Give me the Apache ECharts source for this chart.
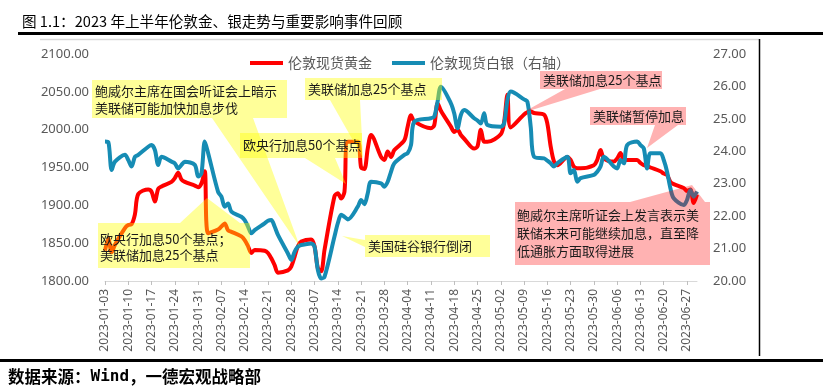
<!DOCTYPE html>
<html>
<head>
<meta charset="utf-8">
<script src="https://cdn.jsdelivr.net/npm/echarts@6/dist/echarts.min.js"></script>
<style>
html,body{margin:0;padding:0;background:#fff;}
#chart{width:833px;height:389px;}
</style>
</head>
<body>
<div id="chart"></div>
<script>
// ---- data ----
const tradeDates = [
'2023-01-03','2023-01-04','2023-01-05','2023-01-06',
'2023-01-09','2023-01-10','2023-01-11','2023-01-12','2023-01-13',
'2023-01-16','2023-01-17','2023-01-18','2023-01-19','2023-01-20',
'2023-01-23','2023-01-24','2023-01-25','2023-01-26','2023-01-27',
'2023-01-30','2023-01-31','2023-02-01','2023-02-02','2023-02-03',
'2023-02-06','2023-02-07','2023-02-08','2023-02-09','2023-02-10',
'2023-02-13','2023-02-14','2023-02-15','2023-02-16','2023-02-17',
'2023-02-20','2023-02-21','2023-02-22','2023-02-23','2023-02-24',
'2023-02-27','2023-02-28','2023-03-01','2023-03-02','2023-03-03',
'2023-03-06','2023-03-07','2023-03-08','2023-03-09','2023-03-10',
'2023-03-13','2023-03-14','2023-03-15','2023-03-16','2023-03-17',
'2023-03-20','2023-03-21','2023-03-22','2023-03-23','2023-03-24',
'2023-03-27','2023-03-28','2023-03-29','2023-03-30','2023-03-31',
'2023-04-03','2023-04-04','2023-04-05','2023-04-06',
'2023-04-11','2023-04-12','2023-04-13','2023-04-14',
'2023-04-17','2023-04-18','2023-04-19','2023-04-20','2023-04-21',
'2023-04-24','2023-04-25','2023-04-26','2023-04-27','2023-04-28',
'2023-05-02','2023-05-03','2023-05-04','2023-05-05',
'2023-05-09','2023-05-10','2023-05-11','2023-05-12',
'2023-05-15','2023-05-16','2023-05-17','2023-05-18','2023-05-19',
'2023-05-22','2023-05-23','2023-05-24','2023-05-25','2023-05-26',
'2023-05-30','2023-05-31','2023-06-01','2023-06-02',
'2023-06-05','2023-06-06','2023-06-07','2023-06-08','2023-06-09',
'2023-06-12','2023-06-13','2023-06-14','2023-06-15','2023-06-16',
'2023-06-19','2023-06-20','2023-06-21','2023-06-22','2023-06-23',
'2023-06-26','2023-06-27','2023-06-28','2023-06-29','2023-06-30'
];
const goldValues = [
1840,1856,1838,1848,
1870,1874,1875,1888,1915,
1921,1918,1905,1922,1925,
1931,1936,1943,1934,1931,
1926,1924,1929,1945,1863,
1868,1872,1876,1867,1865,
1859,1854,1846,1837,1841,
1840,1837,1830,1821,1811,
1814,1819,1832,1846,1852,
1855,1846,1817,1813,1841,
1912,1916,1909,1918,1984,
1984,1950,1948,1975,1993,
1964,1960,1971,1964,1973,
1986,2004,2019,2011,
2002,2006,2035,2025,
2004,1997,2000,1993,1988,
1975,1978,2000,1984,1984,
1994,2010,2046,2003,
2020,2023,2024,2022,
2020,2008,1978,1958,1953,
1964,1960,1951,1949,1949,
1953,1960,1973,1962,
1958,1962,1969,1960,1960,
1960,1956,1953,1952,1950,
1945,1942,1940,1931,1928,
1923,1919,1921,1903,1914
];
const silverValues = [
24.30,24.28,23.42,23.68,
23.89,23.73,23.53,23.83,23.89,
24.14,24.19,24.04,23.58,23.83,
23.68,23.63,23.47,23.58,23.68,
23.58,23.22,23.32,24.30,23.95,
22.75,22.60,22.29,22.39,22.14,
21.98,21.88,21.68,21.47,21.57,
21.78,21.86,21.88,21.68,21.42,
20.85,20.65,20.90,21.06,21.11,
21.16,21.06,20.34,20.08,20.13,
21.37,21.78,22.04,21.98,21.90,
22.29,22.50,22.37,22.70,23.06,
23.01,22.91,23.06,23.37,23.63,
23.89,23.94,24.19,24.91,
25.02,25.07,25.53,25.99,
25.48,25.17,24.71,25.12,25.27,
25.02,24.95,24.86,25.17,24.81,
24.76,24.86,25.58,25.84,
25.60,25.53,24.76,23.83,
23.78,23.71,23.63,23.53,23.63,
23.83,23.32,23.42,23.06,23.17,
23.27,23.37,23.53,23.83,
23.53,23.47,23.73,23.63,24.19,
24.30,24.19,24.09,23.47,23.94,
23.94,23.73,23.37,22.86,22.55,
22.34,22.50,22.81,22.60,22.76
];
const axisStart = '2023-01-03';
const axisEnd = '2023-06-30';
const goldName = '伦敦现货黄金';
const silverName = '伦敦现货白银（右轴）';
const titleText = '图 1.1：2023 年上半年伦敦金、银走势与重要影响事件回顾';
const sourceParts = ['数据来源：', 'Wind', '，一德宏观战略部'];

// ---- build calendar categories ----
const categories = [];
{
  let t = Date.parse(axisStart + 'T00:00:00Z');
  const end = Date.parse(axisEnd + 'T00:00:00Z');
  while (t <= end) {
    categories.push(new Date(t).toISOString().slice(0, 10));
    t += 86400000;
  }
}
const goldMap = {}, silverMap = {};
tradeDates.forEach((d, i) => { goldMap[d] = goldValues[i]; silverMap[d] = silverValues[i]; });
const goldSeries = categories.map(c => (c in goldMap ? goldMap[c] : null));
const silverSeries = categories.map(c => (c in silverMap ? silverMap[c] : null));

const CJK = '"Noto Sans CJK SC", "Noto Sans", sans-serif';
const YEL = 'rgba(255,255,0,0.4)';
const PNK = 'rgba(255,0,0,0.3)';

function poly(points, fill) {
  return { type: 'polygon', z: 100, shape: { points: points }, style: { fill: fill, stroke: null } };
}
function label(x, y, text, lh) {
  return { type: 'text', z: 101, x: x, y: y,
    style: { text: text, font: '13px ' + CJK, fill: '#1a1a1a', verticalAlign: 'top', lineHeight: lh || 17 } };
}

const chart = echarts.init(document.getElementById('chart'), null, { renderer: 'canvas' });
chart.setOption({
  animation: false,
  backgroundColor: '#fff',
  grid: { left: 105, right: 136, top: 54, bottom: 108, containLabel: false },
  legend: {
    left: 245, top: 51, icon: 'rect', itemWidth: 33, itemHeight: 4, itemGap: 20,
    textStyle: { fontSize: 14, color: '#595959', fontFamily: CJK },
    data: [goldName, silverName]
  },
  xAxis: {
    type: 'category', data: categories, boundaryGap: false,
    axisLine: { lineStyle: { color: '#d9d9d9', width: 1 } },
    axisTick: { show: true, interval: 6, length: 4, lineStyle: { color: '#bfbfbf' } },
    axisLabel: { interval: 6, rotate: 90, margin: 8, fontSize: 12, color: '#595959', fontFamily: '"Noto Sans", sans-serif' },
    splitLine: { show: false }
  },
  yAxis: [
    { type: 'value', min: 1800, max: 2100, interval: 50,
      axisLine: { show: false }, axisTick: { show: false }, splitLine: { show: false },
      axisLabel: { margin: 16, fontSize: 13, color: '#595959', fontFamily: '"Noto Sans", sans-serif',
        formatter: v => v.toFixed(2) } },
    { type: 'value', min: 20, max: 27, interval: 1, position: 'right',
      axisLine: { show: false }, axisTick: { show: false }, splitLine: { show: false },
      axisLabel: { margin: 16, fontSize: 13, color: '#595959', fontFamily: '"Noto Sans", sans-serif',
        formatter: v => v.toFixed(2) } }
  ],
  series: [
    { name: goldName, type: 'line', yAxisIndex: 0, data: goldSeries, connectNulls: true,
      showSymbol: false, smooth: 0.3, lineStyle: { color: '#ff0000', width: 4 }, itemStyle: { color: '#ff0000' } },
    { name: silverName, type: 'line', yAxisIndex: 1, data: silverSeries, connectNulls: true,
      showSymbol: false, smooth: 0.3, lineStyle: { color: '#168cb4', width: 4 }, itemStyle: { color: '#168cb4' } }
  ],
  graphic: [
    // page decorations
    { type: 'text', x: 22, y: 21, style: { text: titleText, font: '14.6px ' + CJK, fill: '#000', verticalAlign: 'middle' } },
    { type: 'line', shape: { x1: 18, y1: 33.5, x2: 823, y2: 33.5 }, style: { stroke: '#000', lineWidth: 3 } },
    { type: 'line', shape: { x1: 40, y1: 39.5, x2: 759, y2: 39.5 }, style: { stroke: '#d9d9d9', lineWidth: 1.5 } },
    { type: 'line', shape: { x1: 759.5, y1: 39, x2: 759.5, y2: 356 }, style: { stroke: '#000', lineWidth: 1.5 } },
    { type: 'line', shape: { x1: 0, y1: 360.5, x2: 823, y2: 360.5 }, style: { stroke: '#000', lineWidth: 3 } },
    { type: 'text', x: 8, y: 377, style: {
        text: '{a|' + sourceParts[0] + '}{m|' + sourceParts[1] + '}{a|' + sourceParts[2] + '}',
        verticalAlign: 'middle', fill: '#000',
        rich: {
          a: { font: 'bold 16.5px ' + CJK, fill: '#000' },
          m: { font: 'bold 16px "DejaVu Sans Mono", monospace', fill: '#000' }
        } } },
    // callouts (yellow)
    poly([[92,80],[287,80],[287,118],[253,118],[300,247],[212,118],[92,118]], YEL),
    label(95, 83, '鲍威尔主席在国会听证会上暗示\n美联储可能加快加息步伐', 17),
    poly([[240,133],[362,133],[362,158],[335,158],[346,184],[305,158],[240,158]], YEL),
    label(243, 137, '欧央行加息50个基点', 17),
    poly([[305,78],[442,78],[442,100],[360,100],[363,158],[330,100],[305,100]], YEL),
    label(308, 81, '美联储加息25个基点', 17),
    poly([[98,223],[180,223],[207,198],[240,223],[250,223],[250,268],[98,268]], YEL),
    label(100, 231, '欧央行加息50个基点；\n美联储加息25个基点', 16),
    poly([[365,235],[490,235],[490,257],[365,257],[365,247],[342,236],[365,240]], YEL),
    label(368, 238, '美国硅谷银行倒闭', 17),
    // callouts (pink)
    poly([[540,71],[662,71],[662,89],[600,89],[522,113],[565,89],[540,89]], PNK),
    label(543, 72, '美联储加息25个基点', 17),
    poly([[590,107],[686,107],[686,125],[678,125],[647,148],[655,125],[590,125]], PNK),
    label(593, 108, '美联储暂停加息', 17),
    poly([[515,202],[630,202],[692,185],[705,202],[710,202],[710,265],[515,265]], PNK),
    label(517, 206, '鲍威尔主席听证会上发言表示美\n联储未来可能继续加息，直至降\n低通胀方面取得进展', 18)
  ]
});
</script>
</body>
</html>
